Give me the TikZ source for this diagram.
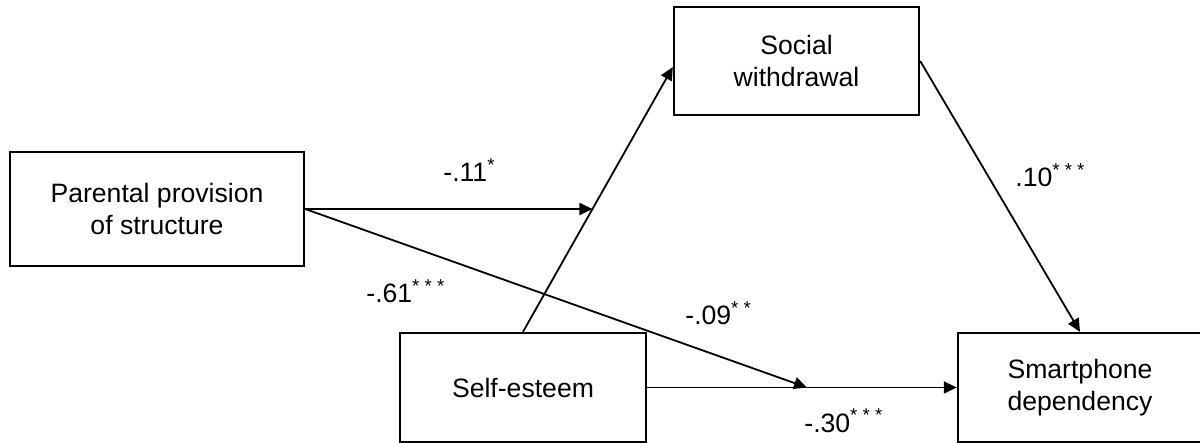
\documentclass[tikz,border=0pt]{standalone}
\usepackage{fontspec}
\setmainfont{Liberation Sans}
\usetikzlibrary{arrows.meta,calc}
\begin{document}
\begin{tikzpicture}[x=0.5pt,y=-0.5pt,
  box/.style={draw,line width=1.2pt,align=center,inner sep=0pt,font=\fontsize{13.3}{16}\selectfont},
  lbl/.style={anchor=base west,inner sep=0pt,font=\fontsize{13.3}{16}\selectfont},
  conn/.style={line width=0.9pt,-{Triangle[length=6.5pt,width=6pt]}},
  ]
\useasboundingbox (0,0) rectangle (1200,443);
\node[box,minimum width=147pt,minimum height=57pt] (pp) at (157,209) {Parental provision\\of structure};
\node[box,minimum width=122.5pt,minimum height=54pt] (sw) at (796.5,61) {Social\\withdrawal};
\node[box,minimum width=123pt,minimum height=54.5pt] (se) at (523,387.5) {Self-esteem};
\node[box,minimum width=122pt,minimum height=54.5pt] (sp) at (1080,387.5) {Smartphone\\dependency};

\coordinate (swin) at ([yshift=-3pt]sw.west);
\draw[conn] (se.north) -- (swin);
\coordinate (m1) at (intersection cs: first line={(se.north)--(swin)}, second line={(pp.east)--($(pp.east)+(100,0)$)});
\draw[conn] (pp.east) -- (m1);
\coordinate (m2) at ($(se.east)!0.516!(sp.west)$);
\draw[conn] (pp.east) -- (m2);
\draw[conn] (se.east) -- (sp.west);
\draw[conn] (sw.east) -- (sp.north);

\node[lbl] (l1) at (443,182) {-.11\textsuperscript{*}};
\node[lbl] (l2) at (1015,187) {.10\textsuperscript{* * *}};
\node[lbl] (l3) at (366,303) {-.61\textsuperscript{* * *}};
\node[lbl] (l4) at (685,325) {-.09\textsuperscript{* *}};
\node[lbl] (l5) at (804,432) {-.30\textsuperscript{* * *}};
\end{tikzpicture}
\end{document}
